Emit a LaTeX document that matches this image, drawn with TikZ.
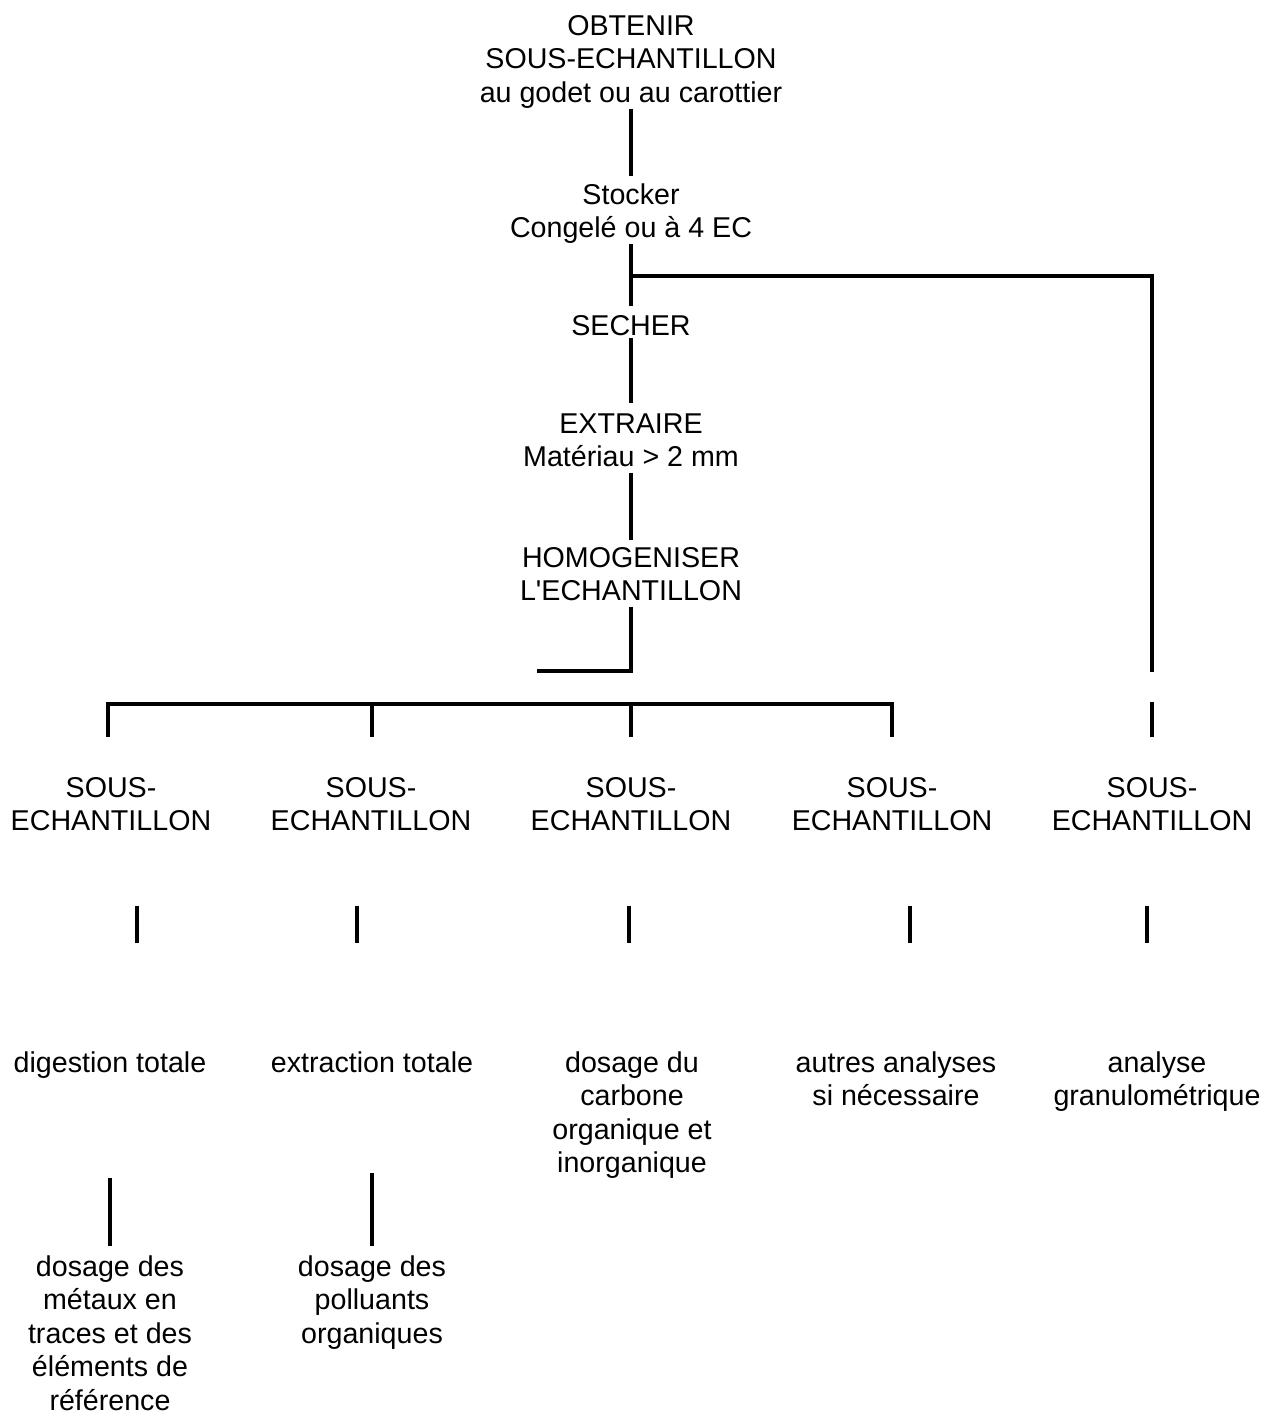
\documentclass[tikz,border=0pt]{standalone}
\usepackage{fontspec}
\setmainfont{Liberation Sans}[Ligatures=TeXOff]
\usetikzlibrary{positioning}

\tikzset{
  etape/.style={anchor=north, align=center, inner sep=0pt, font=\fontsize{16.3}{19.1}\selectfont},
  trait/.style={line width=2.8pt}
}

\begin{document}
\begin{tikzpicture}[x=0.02cm, y=-0.02cm]
\useasboundingbox (0,0) rectangle (1261,1414);
% Main sequence
\node[etape] (obtenir) at (631,15) {OBTENIR\\SOUS-ECHANTILLON\\au godet ou au carottier};
\node[etape] (stocker) at (631,183) {Stocker\\Congelé ou à 4 EC};
\node[etape] (secher) at (631,315) {SECHER};
\node[etape] (extraire) at (631,413) {EXTRAIRE\\Matériau > 2 mm};
\node[etape] (homog) at (631,547) {HOMOGENISER\\L'ECHANTILLON};
\draw[trait, shorten >=0.14cm] (obtenir) -- (stocker);
\draw[trait, shorten >=0.18cm] (stocker) -- (secher);
\draw[trait, shorten <=0.04cm, shorten >=0.2cm] (secher) -- (extraire);
\draw[trait, shorten <=0.12cm, shorten >=0.14cm] (extraire) -- (homog);
\coordinate (coude) at (537,671);
\draw[trait, shorten <=0.1cm] (homog.south) |- (coude);
% Side branch
\coordinate (fourche) at (631,276);
\coordinate (droite) at (1152,672);
\draw[trait] (fourche) -| (droite);
% Sub-samples
\node[etape] (sous1) at (111,777) {SOUS-\\ECHANTILLON};
\node[etape] (sous2) at (371,777) {SOUS-\\ECHANTILLON};
\node[etape] (sous3) at (631,777) {SOUS-\\ECHANTILLON};
\node[etape] (sous4) at (892,777) {SOUS-\\ECHANTILLON};
\node[etape] (sous5) at (1152,777) {SOUS-\\ECHANTILLON};
% Bracket
\coordinate (h1) at (108,704);
\coordinate (h2) at (372,704);
\coordinate (h3) at (631,704);
\coordinate (h4) at (892,704);
\coordinate (p1) at (108,737);
\coordinate (p2) at (372,737);
\coordinate (p3) at (631,737);
\coordinate (p4) at (892,737);
\draw[trait] (p1) -- (h1) -- (h4) -- (p4);
\draw[trait] (h2) -- (p2);
\draw[trait] (h3) -- (p3);
\coordinate (h5) at (1152,702);
\coordinate (p5) at (1152,737);
\draw[trait] (h5) -- (p5);
% Short strokes
\coordinate (m1) at (137,906);
\coordinate (n1) at (137,943);
\coordinate (m2) at (357,906);
\coordinate (n2) at (357,943);
\coordinate (m3) at (629,906);
\coordinate (n3) at (629,943);
\coordinate (m4) at (910,906);
\coordinate (n4) at (910,943);
\coordinate (m5) at (1147,906);
\coordinate (n5) at (1147,943);
\draw[trait] (m1) -- (n1);
\draw[trait] (m2) -- (n2);
\draw[trait] (m3) -- (n3);
\draw[trait] (m4) -- (n4);
\draw[trait] (m5) -- (n5);
% Analyses
\node[etape] (ana1) at (110,1051) {digestion totale};
\node[etape] (ana2) at (372,1051) {extraction totale};
\node[etape] (ana3) at (632,1051) {dosage du\\carbone\\organique et\\inorganique};
\node[etape] (ana4) at (896,1051) {autres analyses\\si nécessaire};
\node[etape] (ana5) at (1157,1051) {analyse\\granulométrique};
% Determinations
\node[etape] (dos1) at (110,1255) {dosage des\\métaux en\\traces et des\\éléments de\\référence};
\node[etape] (dos2) at (372,1255) {dosage des\\polluants\\organiques};
\draw[trait, shorten <=2cm, shorten >=0.18cm] (ana1) -- (dos1);
\draw[trait, shorten <=2cm, shorten >=0.18cm] (ana2) -- (dos2);
\end{tikzpicture}
\end{document}
